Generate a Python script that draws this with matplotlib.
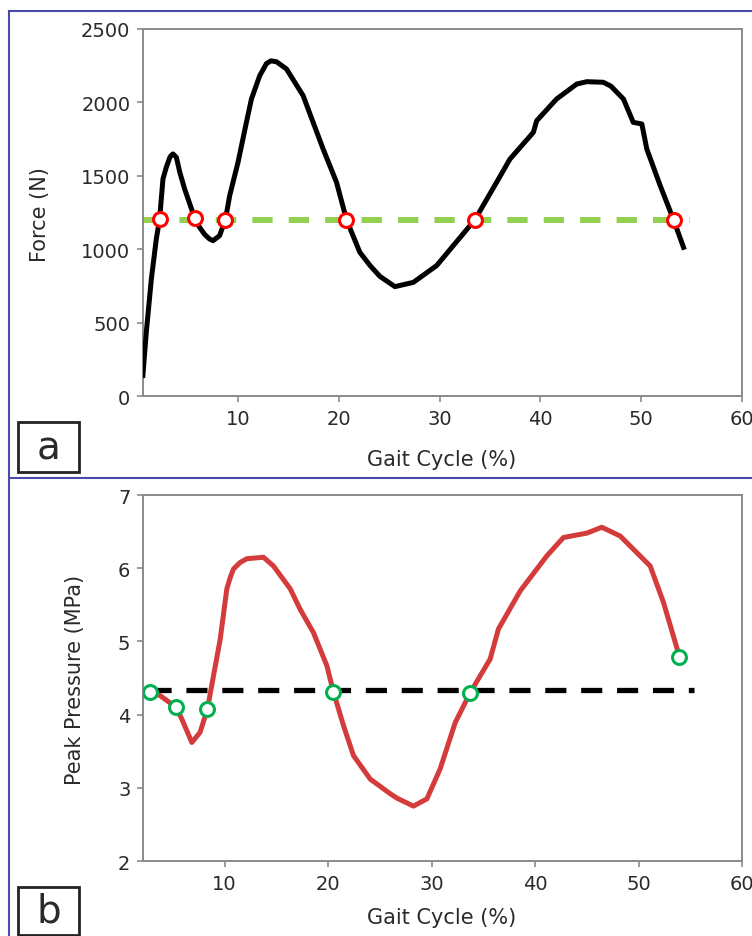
import matplotlib
matplotlib.use("Agg")
import matplotlib.pyplot as plt
from matplotlib.lines import Line2D
from matplotlib.patches import Rectangle

plt.rcParams['font.family'] = ['DejaVu Sans']

# Force (panel a)
force_x = [0.6, 0.94, 1.44, 1.93, 2.26, 2.59, 2.93, 3.3, 3.58, 3.92, 4.25, 4.74, 5.73, 6.2,
           6.73, 7.2, 7.55, 8.2, 8.78, 9.2, 10.03, 10.86, 11.36, 12.18, 12.85, 13.3, 13.84,
           14.83, 16.48, 18.46, 19.79, 20.78, 22.1, 23.1, 24.09, 25.58, 27.4, 29.71, 31.36,
           33.51, 35.66, 36.98, 39.3, 39.63, 41.6, 43.6, 44.6, 46.24, 47.0, 48.23, 49.2,
           50.05, 50.54, 51.87, 53.19, 54.18]
force_y = [140, 436, 797, 1069, 1206, 1478, 1560, 1630, 1649, 1626, 1526, 1410, 1212, 1151,
           1100, 1070, 1058, 1092, 1201, 1364, 1592, 1864, 2023, 2182, 2265, 2283, 2277,
           2228, 2046, 1683, 1456, 1201, 979, 890, 815, 745, 774, 888, 1024,
           1201, 1456, 1614, 1796, 1875, 2023, 2125, 2141, 2137, 2110, 2023, 1864,
           1853, 1683, 1433, 1201, 1013]
force_mark_x = [2.26, 5.73, 8.78, 20.78, 33.51, 53.19]
force_mark_y = [1205, 1215, 1202, 1202, 1202, 1202]
force_level = 1200
force_level_x = [0.6, 54.8]

# Peak pressure (panel b)
press_x = [2.8, 3.77, 5.31, 5.86, 6.83, 7.63, 8.34, 8.92, 9.57, 10.21, 10.53, 10.85, 11.5,
           12.14, 13.75, 14.72, 16.33, 17.29, 18.58, 19.87, 20.51, 21.48, 22.45, 24.06,
           25.99, 26.64, 28.24, 29.54, 30.82, 32.27, 33.72, 35.65, 36.45, 38.55, 41.13,
           42.73, 44.99, 46.44, 48.21, 51.11, 52.4, 53.94]
press_y = [4.31, 4.26, 4.10, 3.94, 3.62, 3.76, 4.08, 4.53, 5.03, 5.72, 5.87, 5.99, 6.08,
           6.13, 6.15, 6.03, 5.72, 5.44, 5.12, 4.67, 4.31, 3.85, 3.44, 3.12,
           2.92, 2.86, 2.75, 2.85, 3.26, 3.89, 4.30, 4.76, 5.17, 5.69, 6.17,
           6.42, 6.48, 6.56, 6.44, 6.03, 5.53, 4.79]
press_mark_x = [2.80, 5.31, 8.34, 20.51, 33.72, 53.94]
press_mark_y = [4.31, 4.10, 4.08, 4.31, 4.30, 4.79]
press_level = 4.33
press_level_x = [2.8, 55.3]

fig = plt.figure(figsize=(7.52, 9.37), dpi=100)

grey = '#8a8a8a'
txt = '#2a2a2a'


def style(ax):
    for s in ax.spines.values():
        s.set_color(grey)
        s.set_linewidth(1.4)
    ax.tick_params(direction='out', length=4, width=1.2, color=grey,
                   labelsize=14, labelcolor=txt, pad=5)


ax1 = fig.add_axes([0.190, 0.5763, 0.797, 0.3917])
ax1.plot(force_level_x, [force_level] * 2, color='#92d050', lw=4.3,
         dashes=(3.4, 2.7), zorder=2)
ax1.plot(force_x, force_y, color='black', lw=3.6, solid_joinstyle='round', zorder=3)
ax1.plot(force_mark_x, force_mark_y, 'o', ms=10, mfc='white', mec='#ff0000', mew=2.2,
         zorder=4)
ax1.set_xlim(0.6, 60)
ax1.set_ylim(0, 2500)
ax1.set_xticks([10, 20, 30, 40, 50, 60])
ax1.set_yticks([0, 500, 1000, 1500, 2000, 2500])
style(ax1)

ax2 = fig.add_axes([0.190, 0.0800, 0.797, 0.3906])
ax2.plot(press_level_x, [press_level] * 2, color='black', lw=3.8,
         dashes=(4.0, 2.8), zorder=2)
ax2.plot(press_x, press_y, color='#d43c3c', lw=3.6, solid_joinstyle='round', zorder=3)
ax2.plot(press_mark_x, press_mark_y, 'o', ms=10, mfc='white', mec='#00b050', mew=2.2,
         zorder=4)
ax2.set_xlim(2.1, 60)
ax2.set_ylim(2, 7)
ax2.set_xticks([10, 20, 30, 40, 50, 60])
ax2.set_yticks([2, 3, 4, 5, 6, 7])
style(ax2)

# axis titles
fig.text(0.587, 1 - 460 / 937, 'Gait Cycle (%)', ha='center', va='center',
         fontsize=15, color=txt)
fig.text(0.587, 1 - 918 / 937, 'Gait Cycle (%)', ha='center', va='center',
         fontsize=15, color=txt)
fig.text(40 / 752, 1 - 215 / 937, 'Force (N)', ha='center', va='center',
         rotation=90, fontsize=15, color=txt)
fig.text(75 / 752, 1 - 680 / 937, 'Peak Pressure (MPa)', ha='center', va='center',
         rotation=90, fontsize=15, color=txt)

# panel frame lines
blue = '#4a4aaa'
fig.add_artist(Line2D([9 / 752, 9 / 752], [0, 1 - 12 / 937], color=blue, lw=1.5))
fig.add_artist(Line2D([9 / 752, 1], [1 - 12 / 937, 1 - 12 / 937], color=blue, lw=1.5))
fig.add_artist(Line2D([9 / 752, 1], [1 - 479 / 937, 1 - 479 / 937], color=blue, lw=1.5))

# panel letters
for letter, top, bot in [('a', 423, 473), ('b', 888, 936)]:
    fig.add_artist(Rectangle((18 / 752, 1 - bot / 937), 61 / 752, (bot - top) / 937,
                             fill=False, ec='#222222', lw=2, transform=fig.transFigure))
    fig.text(48.5 / 752, 1 - (top + bot) / 2 / 937, letter, ha='center', va='center',
             fontsize=28, color=txt)

fig.savefig('out.png', dpi=100)
